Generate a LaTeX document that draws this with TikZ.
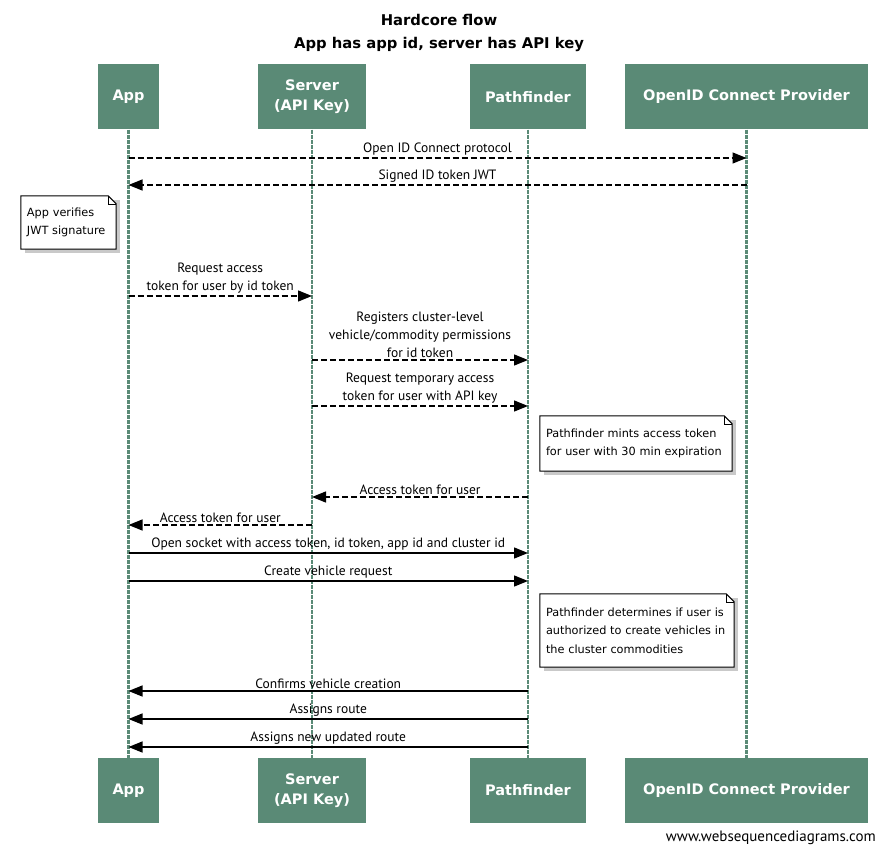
\documentclass[tikz,border=0pt]{standalone}
\usepackage{fontspec}
\setmainfont{PT Sans}
\newfontfamily\headfont{DejaVu Sans}
\newfontfamily\notefont{DejaVu Sans}
\usetikzlibrary{arrows.meta,positioning}

\definecolor{wsdgreen}{RGB}{90,138,118}

\tikzset{
    actor/.style={fill=wsdgreen, text=white, align=center, inner sep=0pt,
        font=\headfont\bfseries\fontsize{14.5}{20}\selectfont, minimum height=65},
    lifeline/.style={wsdgreen, line width=2.5pt, dash pattern=on 4pt off 1pt},
    msg/.style={line width=1.3pt, -{Triangle[length=14pt,width=11pt]}},
    reply/.style={msg, dash pattern=on 6pt off 3pt},
    lbl/.style={above=1pt, inner sep=1pt, align=center, font=\fontsize{13.5}{18}\selectfont},
    note/.style={inner sep=0pt, align=left, font=\notefont\fontsize{11.3}{18.5}\selectfont},
}

% folded note: name, centre, width, height, text width, text
\newcommand{\notebox}[6]{%
    \path (#2) node[minimum width=#3, minimum height=#4, inner sep=0pt] (#1-box) {};
    \fill[black!35, opacity=0.6] ([shift={(4,4)}]#1-box.north west) rectangle ([shift={(4,4)}]#1-box.south east);
    \draw[fill=white, line width=1pt] (#1-box.north west) -- ([xshift=-8pt]#1-box.north east)
        -- ([yshift=-8pt]#1-box.north east) -- (#1-box.south east) -- (#1-box.south west) -- cycle;
    \draw[line width=0.6pt] ([xshift=-8pt]#1-box.north east) |- ([yshift=-8pt]#1-box.north east);
    \node[note, text width=#5] (#1) at (#2) {#6};
}

\begin{document}
\begin{tikzpicture}[x=1pt, y=-1pt]
    \useasboundingbox[fill=white] (0,0) rectangle (878,848);

    %title
    \node[align=center, font=\headfont\bfseries\fontsize{14.8}{23}\selectfont] (title) at (439,33)
        {Hardcore flow\\App has app id, server has API key};

    %participants top
    \node[actor, minimum width=61]  (app)    at (128.5,97) {App};
    \node[actor, minimum width=108] (server) at (312,97)   {Server\\(API Key)};
    \node[actor, minimum width=116] (path)   at (528,97)   {Pathfinder};
    \node[actor, minimum width=243] (oidc)   at (746.5,97) {OpenID Connect Provider};

    %participants bottom
    \node[actor, minimum width=61]  (app2)    at (128.5,790.5) {App};
    \node[actor, minimum width=108] (server2) at (312,790.5)   {Server\\(API Key)};
    \node[actor, minimum width=116] (path2)   at (528,790.5)   {Pathfinder};
    \node[actor, minimum width=243] (oidc2)   at (746.5,790.5) {OpenID Connect Provider};

    %lifelines
    \draw[lifeline] (app.south)    -- (app2.north);
    \draw[lifeline] (server.south) -- (server2.north);
    \draw[lifeline] (path.south)   -- (path2.north);
    \draw[lifeline] (oidc.south)   -- (oidc2.north);

    %message rows
    \coordinate (m1)  at (0,158);
    \coordinate (m2)  at (0,185);
    \coordinate (m3)  at (0,296);
    \coordinate (m4)  at (0,360);
    \coordinate (m5)  at (0,406);
    \coordinate (m6)  at (0,497);
    \coordinate (m7)  at (0,525);
    \coordinate (m8)  at (0,553);
    \coordinate (m9)  at (0,581);
    \coordinate (m10) at (0,691);
    \coordinate (m11) at (0,719);
    \coordinate (m12) at (0,747);

    %login with provider
    \draw[reply] (app |- m1) -- node[lbl] {Open ID Connect protocol} (oidc |- m1);
    \draw[reply] (oidc |- m2) -- node[lbl] {Signed ID token JWT} (app |- m2);
    \notebox{verify}{68.5,222.5}{95}{53}{83pt}{App verifies\\JWT signature}

    %token exchange
    \draw[reply] (app |- m3) -- node[lbl] {Request access\\token for user by id token} (server |- m3);
    \draw[reply] (server |- m4) -- node[lbl] {Registers cluster-level\\vehicle/commodity permissions\\for id token} (path |- m4);
    \draw[reply] (server |- m5) -- node[lbl] {Request temporary access\\token for user with API key} (path |- m5);
    \notebox{mints}{636,443.5}{192}{55}{180pt}{Pathfinder mints access token\\for user with 30 min expiration}
    \draw[reply] (path |- m6) -- node[lbl] {Access token for user} (server |- m6);
    \draw[reply] (server |- m7) -- node[lbl] {Access token for user} (app |- m7);

    %socket
    \draw[msg] (app |- m8) -- node[lbl] {Open socket with access token, id token, app id and cluster id} (path |- m8);
    \draw[msg] (app |- m9) -- node[lbl] {Create vehicle request} (path |- m9);
    \notebox{authz}{637,630.5}{194}{73}{182pt}{Pathfinder determines if user is\\authorized to create vehicles in\\the cluster commodities}

    %vehicle and routes
    \draw[msg] (path |- m10) -- node[lbl] {Confirms vehicle creation} (app |- m10);
    \draw[msg] (path |- m11) -- node[lbl] {Assigns route} (app |- m11);
    \draw[msg] (path |- m12) -- node[lbl] {Assigns new updated route} (app |- m12);

    %footer
    \node[anchor=east, inner sep=0pt, font=\fontsize{15}{17}\selectfont] (wsd) at (876,838) {www.websequencediagrams.com};

\end{tikzpicture}
\end{document}
